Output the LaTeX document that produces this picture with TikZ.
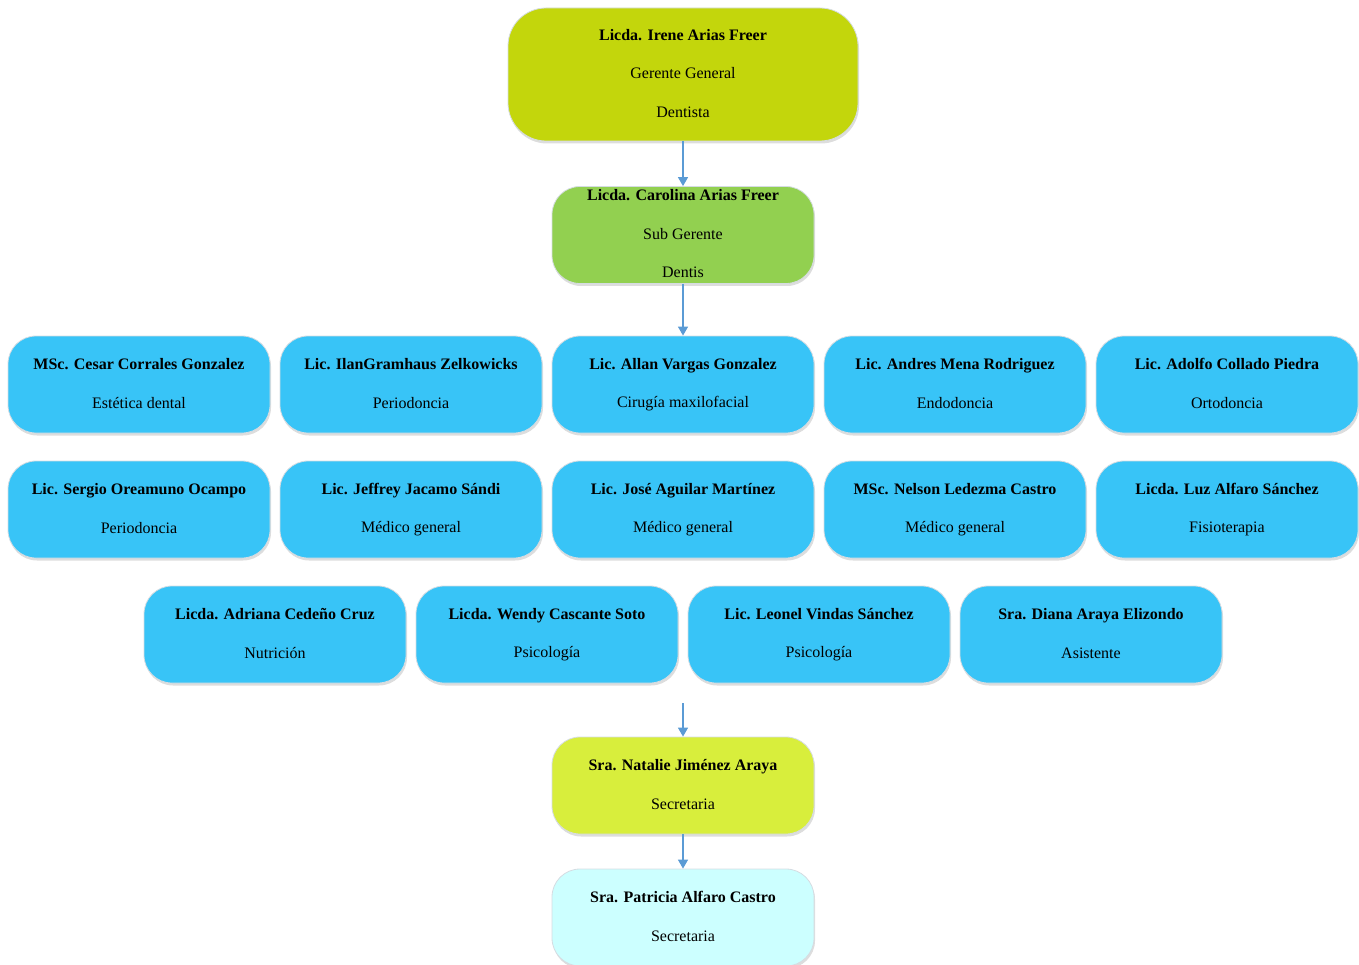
\documentclass[tikz,border=0pt]{standalone}
\usepackage{fontspec}
\setmainfont{Liberation Serif}
\usetikzlibrary{arrows.meta,shadows}
\definecolor{gerente}{HTML}{C3D60C}
\definecolor{subger}{HTML}{92D050}
\definecolor{staff}{HTML}{38C4F7}
\definecolor{secre}{HTML}{D8EE3C}
\definecolor{secredos}{HTML}{CCFFFF}
\definecolor{link}{HTML}{5B9BD5}
\definecolor{rim}{HTML}{D5DCE2}
% fixed-height strut so every line sits on the same grid
\newcommand\lnstrut{\rule[-2.5pt]{0pt}{14pt}}
\tikzset{
  card/.style={rectangle, rounded corners=28pt, draw=rim, line width=0.8pt,
    minimum width=262pt, minimum height=97pt, inner sep=0pt,
    align=center, font=\fontsize{16}{38.5}\selectfont,
    drop shadow={shadow xshift=1pt, shadow yshift=-2.5pt, opacity=0.22, fill=black!60}},
  stf/.style={card, fill=staff},
  link/.style={draw=link, line width=1.4pt, -{Triangle[width=10pt,length=9pt]}}
}
\begin{document}
\begin{tikzpicture}[x=1pt,y=-1pt]
\useasboundingbox (0,0) rectangle (1359,965);

% direction
\node[card, fill=gerente, minimum width=350pt, minimum height=133pt, rounded corners=38pt]
  (irene) at (683,74.5) {\lnstrut\textbf{Licda. Irene Arias Freer}\\\lnstrut Gerente General\\\lnstrut Dentista};
\node[card, fill=subger] (carolina) at (683,235)
  {\lnstrut\textbf{Licda. Carolina Arias Freer}\\\lnstrut Sub Gerente\\\lnstrut Dentis};

% professionals, first row
\node[stf] (cesar)  at (139,384.5)  {\lnstrut\textbf{MSc. Cesar Corrales Gonzalez}\\\lnstrut Estética dental};
\node[stf] (ilan)   at (411,384.5)  {\lnstrut\textbf{Lic. IlanGramhaus Zelkowicks}\\\lnstrut Periodoncia};
\node[stf] (allan)  at (683,384.5)  {\lnstrut\textbf{Lic. Allan Vargas Gonzalez}\\\lnstrut Cirugía maxilofacial};
\node[stf] (andres) at (955,384.5)  {\lnstrut\textbf{Lic. Andres Mena Rodriguez}\\\lnstrut Endodoncia};
\node[stf] (adolfo) at (1227,384.5) {\lnstrut\textbf{Lic. Adolfo Collado Piedra}\\\lnstrut Ortodoncia};

% second row
\node[stf] (sergio)  at (139,509.5)  {\lnstrut\textbf{Lic. Sergio Oreamuno Ocampo}\\\lnstrut Periodoncia};
\node[stf] (jeffrey) at (411,509.5)  {\lnstrut\textbf{Lic. Jeffrey Jacamo Sándi}\\\lnstrut Médico general};
\node[stf] (jose)    at (683,509.5)  {\lnstrut\textbf{Lic. José Aguilar Martínez}\\\lnstrut Médico general};
\node[stf] (nelson)  at (955,509.5)  {\lnstrut\textbf{MSc. Nelson Ledezma Castro}\\\lnstrut Médico general};
\node[stf] (luz)     at (1227,509.5) {\lnstrut\textbf{Licda. Luz Alfaro Sánchez}\\\lnstrut Fisioterapia};

% third row
\node[stf] (adriana) at (275,634.5)  {\lnstrut\textbf{Licda. Adriana Cedeño Cruz}\\\lnstrut Nutrición};
\node[stf] (wendy)   at (547,634.5)  {\lnstrut\textbf{Licda. Wendy Cascante Soto}\\\lnstrut Psicología};
\node[stf] (leonel)  at (819,634.5)  {\lnstrut\textbf{Lic. Leonel Vindas Sánchez}\\\lnstrut Psicología};
\node[stf] (diana)   at (1091,634.5) {\lnstrut\textbf{Sra. Diana Araya Elizondo}\\\lnstrut Asistente};

% secretaries
\node[card, fill=secre] (natalie) at (683,785.5)
  {\lnstrut\textbf{Sra. Natalie Jiménez Araya}\\\lnstrut Secretaria};
\node[card, fill=secredos] (patricia) at (683,917.5)
  {\lnstrut\textbf{Sra. Patricia Alfaro Castro}\\\lnstrut Secretaria};

% connectors
\coordinate (feed) at (683,703);
\draw[link] (irene.south) -- (carolina.north);
\draw[link] (carolina.south) -- (allan.north);
\draw[link] (feed) -- (natalie.north);
\draw[link] (natalie.south) -- (patricia.north);
\end{tikzpicture}
\end{document}
